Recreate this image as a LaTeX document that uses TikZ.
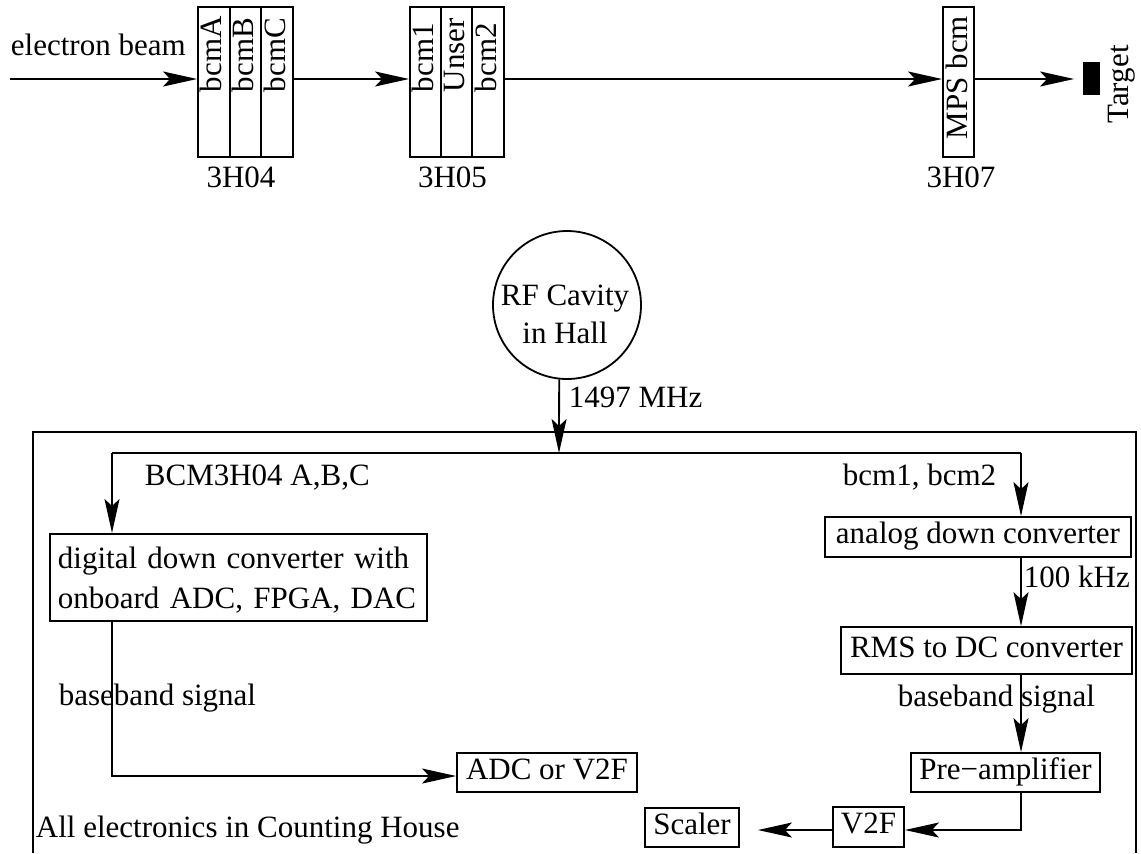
\documentclass[tikz,border=0pt]{standalone}
\usepackage{fontspec}
\setmainfont{Liberation Serif}
\usetikzlibrary{arrows.meta,calc}
\begin{document}
\begin{tikzpicture}[x=0.5pt,y=-0.5pt,
  line width=0.9pt,
  font=\fontsize{15.5}{19}\selectfont,
  arr/.style={-{Stealth[length=17pt,width=7.5pt,inset=3.5pt]}},
  bx/.style={draw, inner sep=0pt, text height=0.7em, text depth=0.05em},
  col/.style={draw, inner sep=0pt, minimum height=75pt},
  vt/.style={rotate=90, anchor=west, inner sep=0pt},
  lbl/.style={anchor=base west, inner sep=0pt},
  clbl/.style={anchor=base, inner sep=0pt}
]
\useasboundingbox (0,0) rectangle (1141,853);

% ---------- beam line ----------
\node[col, minimum width=15.83pt] (colA) at (213.83,82) {};
\node[col, minimum width=15.83pt] (colB) at (245.5,82) {};
\node[col, minimum width=15.83pt] (colC) at (277.17,82) {};
\node[vt] (tA) at (211.3,93) {bcmA};
\node[vt] (tB) at (243,93) {bcmB};
\node[vt] (tC) at (274.7,93) {bcmC};

\node[col, minimum width=15.5pt] (col1) at (425.5,82) {};
\node[col, minimum width=15.5pt] (col2) at (456.5,82) {};
\node[col, minimum width=16pt] (col3) at (488,82) {};
\node[vt] (t1) at (423,93) {bcm1};
\node[vt] (t2) at (454,93) {Unser};
\node[vt] (t3) at (485.5,93) {bcm2};

\node[col, minimum width=15.5pt] (mps) at (958.5,82) {};
\node[vt] (tm) at (956.5,140) {MPS bcm};

\node[fill=black, inner sep=0pt, minimum width=8.5pt, minimum height=16.5pt] (tgt) at (1091.5,78.5) {};
\node[rotate=90, inner sep=0pt] (tgtl) at (1121.5,84.5) {Target};

\node[lbl] (eb) at (10,55) {electron beam};
\node[clbl] (l04) at (241,187) {3H04};
\node[clbl] (l05) at (452.5,187) {3H05};
\node[clbl] (l07) at (961,187) {3H07};

\coordinate (bs) at (10,79);
\draw[arr] (bs) -- (bs -| colA.west);
\draw[arr] (colC.east |- bs) -- (bs -| col1.west);
\draw[arr] (col3.east |- bs) -- (bs -| mps.west);
\draw[arr, shorten >=4pt] (mps.east |- bs) -- (bs -| tgt.west);

% ---------- electronics ----------
\draw (33,853) -- (33,432) -- (1136,432) -- (1136,853);

\node[draw, circle, minimum size=74pt, inner sep=0pt] (cav) at (567,305) {};
\node[align=center, inner sep=0pt] (cavt) at (565,314) {RF Cavity\\in Hall};

\node[draw, anchor=north west, inner xsep=4pt, inner ysep=0pt, text width=180.5pt,
      minimum height=43.5pt, align=left, font=\fontsize{15.5}{20}\selectfont]
      (ddc) at (49,533) {\rule{0pt}{13.5pt}digital down converter with\\onboard ADC, FPGA, DAC};
\node[bx, minimum width=153pt, minimum height=20pt] (anl) at (978,537) {analog down converter};
\node[bx, minimum width=145.5pt, minimum height=23.5pt] (rms) at (986.5,650.5) {RMS to DC converter};
\node[bx, minimum width=94.5pt, minimum height=19.5pt] (pre) at (1005.5,772.5) {Pre−amplifier};
\node[bx, minimum width=35.5pt, minimum height=20pt] (v2f) at (868.5,827) {V2F};
\node[bx, minimum width=47pt, minimum height=19.5pt] (scl) at (692,827.5) {Scaler};
\node[bx, minimum width=90pt, minimum height=19.5pt] (adv) at (547,772.5) {ADC or V2F};

\coordinate (jm) at (559,453);
\coordinate (jl) at (112,453);
\coordinate (jr) at (1021,453);
\coordinate (c1) at (1021,830);
\coordinate (c2) at (112,776);

\draw[arr] (cav.-96) -- (jm);
\draw (jl) -- (jr);
\draw[arr] (jl) -- (ddc.north -| jl);
\draw[arr] (jr) -- (anl.north -| jr);
\draw[arr] (anl.south -| jr) -- (rms.north -| jr);
\draw[arr] (rms.south -| jr) -- (pre.north -| jr);
\draw[arr] (pre.south -| jr) -- (c1) -- (c1 -| v2f.east);
\draw[arr, shorten >=9pt] (v2f.west |- c1) -- (c1 -| scl.east);
\draw[arr] (ddc.south -| jl) -- (c2) -- (c2 -| adv.west);

\node[lbl] (f1) at (568,407) {1497 MHz};
\node[lbl] (f2) at (144,485) {BCM3H04 A,B,C};
\node[lbl] (f3) at (842,485) {bcm1, bcm2};
\node[lbl] (f4) at (1023,587) {100 kHz};
\node[lbl] (f5) at (58,705) {baseband signal};
\node[lbl] (f6) at (897,706) {baseband signal};
\node[lbl] (f7) at (35,837) {All electronics in Counting House};
\end{tikzpicture}
\end{document}
